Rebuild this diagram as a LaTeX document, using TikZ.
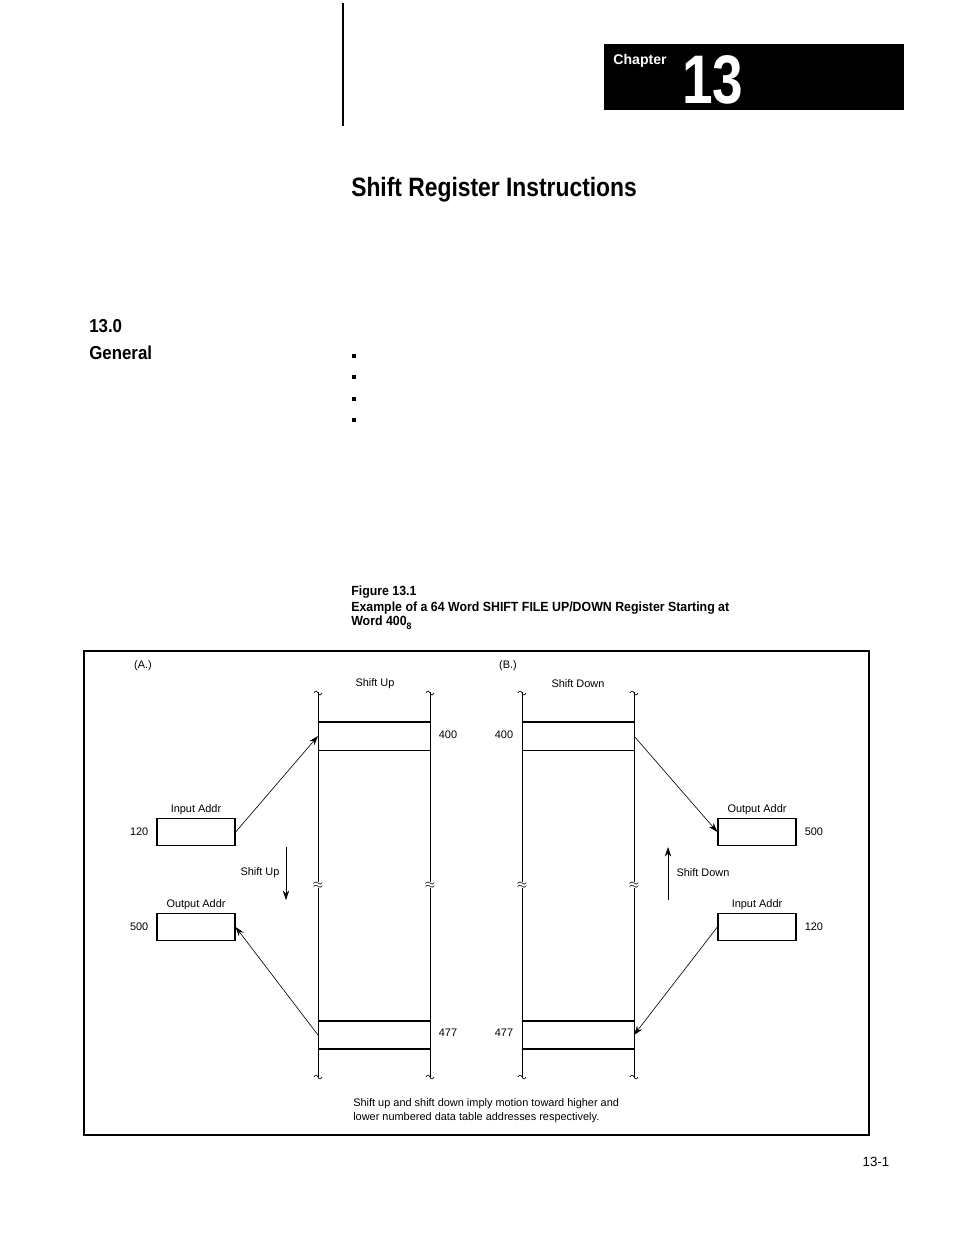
\documentclass[tikz,border=0pt]{standalone}
\usepackage{fontspec}
\setmainfont{Liberation Sans}
\usetikzlibrary{arrows.meta, positioning, calc}

\begin{document}
\begin{tikzpicture}[
  x=0.64pt, y=-0.64pt,
  small/.style={font=\fontsize{7}{8}\selectfont, inner sep=0pt},
  regbox/.style={draw, thick, minimum width=78*0.64pt, minimum height=27*0.64pt, inner sep=0pt},
  arrow/.style={-{Stealth[length=6pt,width=4pt]}, thin},
  wall/.style={thin},
  brk/.style={font=\fontsize{8}{8}\selectfont, inner sep=0pt, fill=white}
]
\useasboundingbox (0,0) rectangle (954,1235);

% page header
\draw[thick] (343,3) -- (343,126);
\node[fill=black, minimum width=300*0.64pt, minimum height=66*0.64pt, anchor=north west, inner sep=0pt] (chapbox) at (604,44) {};
\node[font=\bfseries\fontsize{9}{10}\selectfont, text=white, inner sep=0pt] (chap) at (640,61) {Chapter};
\node[font=\bfseries\fontsize{44}{44}\selectfont, text=white, inner sep=0pt, xscale=0.8] (num) at (713,80) {13};
\node[font=\bfseries\fontsize{17}{20}\selectfont, anchor=west, inner sep=0pt, xscale=0.86] (title) at (351,190) {Shift Register Instructions};
\node[font=\bfseries\fontsize{12}{14}\selectfont, anchor=west, inner sep=0pt, xscale=0.9] (sec) at (89,326) {13.0};
\node[font=\bfseries\fontsize{12}{14}\selectfont, anchor=west, inner sep=0pt, xscale=0.9] (gen) at (89,353) {General};
\foreach \y in {356,377,399,420}
  \fill (352,\y-2) rectangle (356,\y+2);

% caption
\node[font=\bfseries\fontsize{8.5}{10}\selectfont, anchor=west, inner sep=0pt, xscale=0.93] (fig) at (351,592) {Figure 13.1};
\node[font=\bfseries\fontsize{8.5}{10}\selectfont, anchor=west, inner sep=0pt, xscale=0.93] (cap1) at (351,608) {Example of a 64 Word SHIFT FILE UP/DOWN Register Starting at};
\node[font=\bfseries\fontsize{8.5}{10}\selectfont, anchor=west, inner sep=0pt, xscale=0.93] (cap2) at (351,623) {Word 400\raisebox{-0.6ex}{\fontsize{6}{6}\selectfont 8}};

% frame
\draw[thick] (84,651) rectangle (869,1135);
\node[small] (la) at (143,666) {(A.)};
\node[small] (lb) at (508,666) {(B.)};
\node[small] (supt) at (375,684) {Shift Up};
\node[small] (sdnt) at (578,684) {Shift Down};

% register walls
\foreach \x in {318,430,522,634} {
  \draw[wall] (\x,692) -- (\x,1077);
  \node[brk] at (\x,885) {$\approx$};
  \draw[thin] (\x-4,693) sin (\x-2,691) cos (\x,693) sin (\x+2,695) cos (\x+4,693);
  \draw[thin] (\x-4,1077) sin (\x-2,1075) cos (\x,1077) sin (\x+2,1079) cos (\x+4,1077);
}
\foreach \a/\b in {318/430,522/634} {
  \draw[thick] (\a,722) -- (\b,722);
  \draw[thin] (\a,750) -- (\b,750);
  \draw[thick] (\a,1021) -- (\b,1021);
  \draw[thick] (\a,1049) -- (\b,1049);
}
\coordinate (a400) at (318,736);
\coordinate (a477) at (318,1035);
\coordinate (b400) at (634,736);
\coordinate (b477) at (634,1035);
\node[small] at (448,735) {400};
\node[small] at (448,1033) {477};
\node[small] at (504,735) {400};
\node[small] at (504,1033) {477};

% part A
\node[regbox] (ain) at (196,832) {};
\node[small, above=2pt of ain] {Input Addr};
\node[small, left=5pt of ain] {120};
\node[regbox] (aout) at (196,927) {};
\node[small, above=2pt of aout] {Output Addr};
\node[small, left=5pt of aout] {500};
\draw[arrow] (ain.east) -- (a400);
\draw[arrow] (a477) -- (aout.east);
\coordinate (su1) at (286,847);
\coordinate (su2) at (286,900);
\draw[arrow] (su1) -- (su2);
\node[small] at (260,873) {Shift Up};

% part B
\node[regbox] (bout) at (757,832) {};
\node[small, above=2pt of bout] {Output Addr};
\node[small, right=5pt of bout] {500};
\node[regbox] (bin) at (757,927) {};
\node[small, above=2pt of bin] {Input Addr};
\node[small, right=5pt of bin] {120};
\draw[arrow] (b400) -- (bout.west);
\draw[arrow] (bin.west) -- (b477);
\coordinate (sd1) at (668,900);
\coordinate (sd2) at (668,847);
\draw[arrow] (sd1) -- (sd2);
\node[small] at (703,873) {Shift Down};

% note
\node[small, anchor=west] at (353,1104) {Shift up and shift down imply motion toward higher and};
\node[small, anchor=west] at (353,1118) {lower numbered data table addresses respectively.};

\node[font=\fontsize{8.5}{10}\selectfont, inner sep=0pt] (page) at (876,1162) {13-1};
\end{tikzpicture}
\end{document}
